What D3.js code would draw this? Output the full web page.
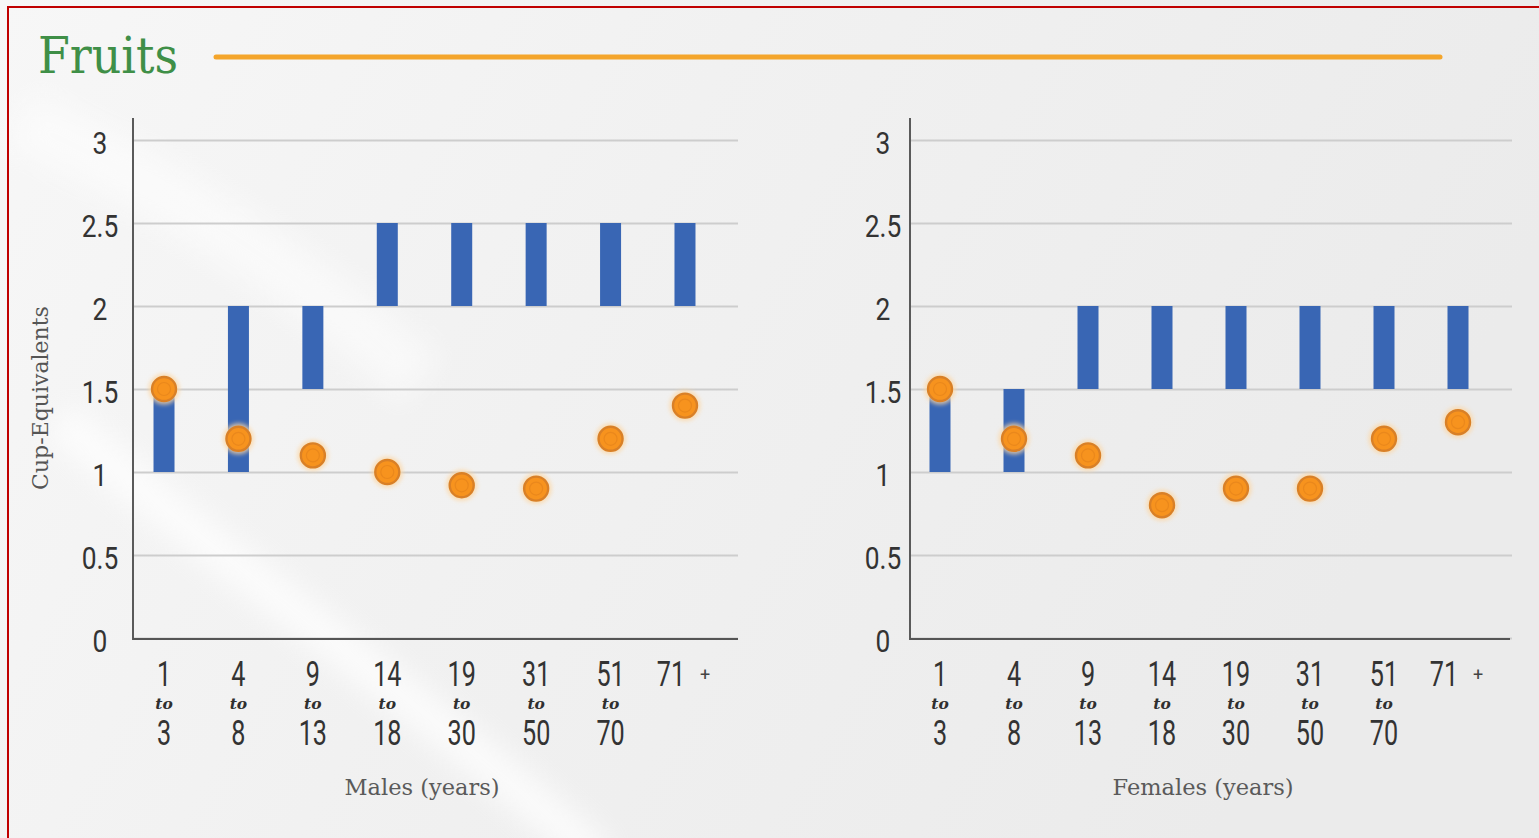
<!DOCTYPE html>
<html>
<head>
<meta charset="utf-8">
<script src="https://cdn.jsdelivr.net/npm/d3@7"></script>
<style>
  html, body { margin: 0; padding: 0; overflow: hidden; background: #f1f1f1; }
  svg { display: block; }
</style>
</head>
<body>
<svg id="chart" width="1539" height="838"></svg>
<script>
// Age groups (x categories)
const ageGroups = ["1-3", "4-8", "9-13", "14-18", "19-30", "31-50", "51-70", "71+"];
const ageFrom   = ["1", "4", "9", "14", "19", "31", "51", "71"];
const ageTo     = ["3", "8", "13", "18", "30", "50", "70", ""];

// Recommended range (bars) and average intake (dots), cup-equivalents per day
const maleRecLow    = [1, 1, 1.5, 2, 2, 2, 2, 2];
const maleRecHigh   = [1.5, 2, 2, 2.5, 2.5, 2.5, 2.5, 2.5];
const maleIntake    = [1.5, 1.2, 1.1, 1.0, 0.92, 0.9, 1.2, 1.4];
const femaleRecLow  = [1, 1, 1.5, 1.5, 1.5, 1.5, 1.5, 1.5];
const femaleRecHigh = [1.5, 1.5, 2, 2, 2, 2, 2, 2];
const femaleIntake  = [1.5, 1.2, 1.1, 0.8, 0.9, 0.9, 1.2, 1.3];

const yTicks = [0, 0.5, 1, 1.5, 2, 2.5, 3];

const svg = d3.select("#chart");
const W = 1539, H = 838;

// ---------- background ----------
const defs = svg.append("defs");
const bg = defs.append("linearGradient").attr("id", "bgGrad")
  .attr("x1", "0").attr("y1", "0").attr("x2", "1").attr("y2", "0.3");
bg.append("stop").attr("offset", "0").attr("stop-color", "#f7f7f7");
bg.append("stop").attr("offset", "0.45").attr("stop-color", "#f1f1f1");
bg.append("stop").attr("offset", "1").attr("stop-color", "#ebebeb");

defs.append("filter").attr("id", "soft").attr("x", "-50%").attr("y", "-50%")
  .attr("width", "200%").attr("height", "200%")
  .append("feGaussianBlur").attr("stdDeviation", 14);
defs.append("filter").attr("id", "glow").attr("x", "-50%").attr("y", "-50%")
  .attr("width", "200%").attr("height", "200%")
  .append("feGaussianBlur").attr("stdDeviation", 2);

svg.append("rect").attr("width", W).attr("height", H).attr("fill", "url(#bgGrad)");
// light sweep across the lower left
svg.append("path")
  .attr("d", "M60,420 C220,560 420,700 600,860")
  .attr("fill", "none").attr("stroke", "#ffffff").attr("stroke-width", 38)
  .attr("opacity", 0.75).attr("filter", "url(#soft)");
svg.append("path")
  .attr("d", "M20,120 C200,200 330,300 420,380")
  .attr("fill", "none").attr("stroke", "#ffffff").attr("stroke-width", 60)
  .attr("opacity", 0.5).attr("filter", "url(#soft)");

// frame
svg.append("rect").attr("x", 8).attr("y", 7).attr("width", W + 20).attr("height", H + 20)
  .attr("fill", "none").attr("stroke", "#c00000").attr("stroke-width", 2);

// ---------- title ----------
svg.append("text")
  .attr("x", 38).attr("y", 73)
  .attr("font-family", "'DejaVu Serif', 'Liberation Serif', serif")
  .attr("font-size", 50)
  .attr("textLength", 140).attr("lengthAdjust", "spacingAndGlyphs")
  .attr("fill", "#3f8f47")
  .text("Fruits");

svg.append("line")
  .attr("x1", 216).attr("x2", 1440).attr("y1", 57).attr("y2", 57)
  .attr("stroke", "#f4a52b").attr("stroke-width", 5).attr("stroke-linecap", "round");

// ---------- helpers ----------
const NUM_FONT = "Roboto, 'Liberation Sans', sans-serif";
function condense(textSel, sx) {
  textSel.each(function () {
    const t = d3.select(this);
    const x = +t.attr("x") || 0;
    t.attr("x", x / sx).attr("transform", `scale(${sx},1)`);
  });
}
// narrow a tspan to a fraction of its natural width
function narrow(span, f) {
  const w = span.node().getComputedTextLength();
  span.attr("textLength", w * f).attr("lengthAdjust", "spacingAndGlyphs");
}

const y = d3.scaleLinear().domain([0, 3]).range([638, 140]);

function panel(opt) {
  const g = svg.append("g");
  const x = d3.scaleBand().domain(ageGroups).range(opt.band).padding(0);

  // y axis with gridlines
  const yAxis = d3.axisLeft(y)
    .tickValues(yTicks)
    .tickSizeInner(-(opt.gridEnd - opt.axisX))
    .tickSizeOuter(0)
    .tickPadding(opt.labelOffset)
    .tickFormat(d => String(d));
  const ya = g.append("g").attr("transform", `translate(${opt.axisX},0)`).call(yAxis);
  ya.select(".domain").remove();
  ya.selectAll(".tick line").attr("stroke", "#cdcdcd").attr("stroke-width", 2);
  ya.selectAll(".tick text")
    .attr("text-anchor", "middle")
    .attr("dy", "0.42em")
    .attr("font-family", NUM_FONT).attr("font-size", 31).attr("fill", "#333");
  condense(ya.selectAll(".tick text"), 0.85);

  // vertical axis line
  g.append("line")
    .attr("x1", opt.axisX).attr("x2", opt.axisX).attr("y1", 118).attr("y2", 640)
    .attr("stroke", "#5a5a5a").attr("stroke-width", 2);

  // x axis: "from / to / to-age" stacked in one label per tick
  const xAxis = d3.axisBottom(x).tickSize(0).tickFormat("");
  const xa = g.append("g").attr("transform", `translate(0,${y(0)})`).call(xAxis);
  xa.select(".domain").remove();
  g.append("line")
    .attr("x1", opt.axisX).attr("x2", opt.axisEnd).attr("y1", 639).attr("y2", 639)
    .attr("stroke", "#555").attr("stroke-width", 2);

  xa.selectAll(".tick").each(function (d, i) {
    const label = d3.select(this).append("text")
      .attr("text-anchor", "middle").attr("fill", "#333");
    const top = label.append("tspan")
      .attr("x", ageTo[i] ? 0 : -14).attr("y", 48)
      .attr("font-family", NUM_FONT).attr("font-size", 35)
      .text(ageFrom[i]);
    narrow(top, 0.72);
    if (ageTo[i]) {
      label.append("tspan").attr("x", 0).attr("y", 71)
        .attr("font-family", "'DejaVu Serif', 'Liberation Serif', serif")
        .attr("font-style", "italic").attr("font-weight", "bold")
        .attr("font-size", 15.5).attr("fill", "#2f2f2f")
        .text("to");
      const bot = label.append("tspan").attr("x", 0).attr("y", 107)
        .attr("font-family", NUM_FONT).attr("font-size", 35)
        .text(ageTo[i]);
      narrow(bot, 0.72);
    } else {
      label.append("tspan").attr("x", 20).attr("y", 43)
        .attr("font-family", NUM_FONT).attr("font-size", 18).attr("fill", "#444")
        .text("+");
    }
  });

  // axis title
  g.append("text")
    .attr("x", opt.titleX).attr("y", 795)
    .attr("text-anchor", "middle")
    .attr("font-family", "'DejaVu Serif', 'Liberation Serif', serif")
    .attr("font-size", 22.5).attr("fill", "#5a5a5a")
    .text(opt.title);

  // recommended ranges
  const bw = 21;
  g.append("g").selectAll("rect")
    .data(ageGroups)
    .join("rect")
    .attr("x", d => x(d) + x.bandwidth() / 2 - bw / 2)
    .attr("width", bw)
    .attr("y", (d, i) => y(opt.high[i]))
    .attr("height", (d, i) => y(opt.low[i]) - y(opt.high[i]))
    .attr("fill", "#3966b4");

  // average intake
  const dots = g.append("g").selectAll("g")
    .data(ageGroups)
    .join("g")
    .attr("transform", (d, i) => `translate(${x(d) + x.bandwidth() / 2},${y(opt.intake[i])})`);
  dots.append("circle").attr("r", 15.5).attr("fill", "#fcd7a4").attr("opacity", 0.8)
    .attr("filter", "url(#glow)");
  dots.append("circle").attr("r", 12).attr("fill", "#f7931e")
    .attr("stroke", "#d98027").attr("stroke-width", 2.4);
  dots.append("circle").attr("r", 6.5).attr("fill", "none")
    .attr("stroke", "#ea881c").attr("stroke-width", 1.2);
}

panel({
  band: [126.8, 722.2], axisX: 133, gridEnd: 738, axisEnd: 738, labelOffset: 33,
  title: "Males (years)", titleX: 422,
  low: maleRecLow, high: maleRecHigh, intake: maleIntake
});
panel({
  band: [903, 1495], axisX: 910, gridEnd: 1512, axisEnd: 1510, labelOffset: 27,
  title: "Females (years)", titleX: 1203,
  low: femaleRecLow, high: femaleRecHigh, intake: femaleIntake
});

// y axis title
svg.append("text")
  .attr("transform", "translate(48,398) rotate(-90)")
  .attr("text-anchor", "middle")
  .attr("font-family", "'DejaVu Serif', 'Liberation Serif', serif")
  .attr("font-size", 22).attr("fill", "#555")
  .text("Cup-Equivalents");
</script>
</body>
</html>
